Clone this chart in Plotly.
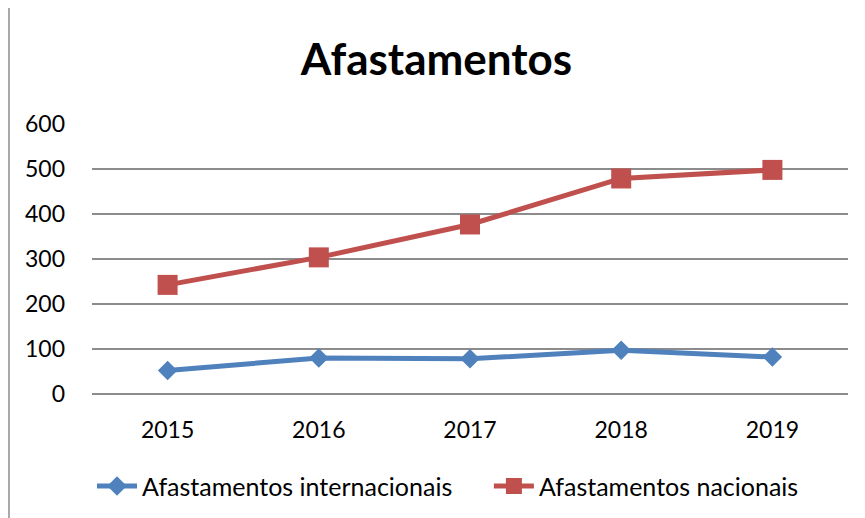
import plotly.graph_objects as go

years = ["2015", "2016", "2017", "2018", "2019"]
internacionais = [52, 80, 78, 97, 82]
nacionais = [242, 303, 376, 478, 497]
y_ticks = [0, 100, 200, 300, 400, 500, 600]

FONT = "Lato"
W, H = 857, 510  # page body has an 8px margin
fig = go.Figure()
fig.add_trace(go.Scatter(
    x=years, y=internacionais, name="Afastamentos internacionais",
    mode="lines+markers", legend="legend",
    line=dict(color="#4F81BD", width=5),
    marker=dict(symbol="diamond", size=15, color="#4F81BD"),
))
fig.add_trace(go.Scatter(
    x=years, y=nacionais, name="Afastamentos nacionais",
    mode="lines+markers", legend="legend2",
    line=dict(color="#C0504D", width=5),
    marker=dict(symbol="square", size=20, color="#C0504D"),
))

legend_common = dict(orientation="h", y=-0.34, yanchor="middle",
                     xanchor="left", font=dict(family=FONT, size=25),
                     itemwidth=40, bgcolor="rgba(0,0,0,0)")

fig.update_layout(
    width=W, height=H,
    margin=dict(l=84, r=17, t=115, b=124, autoexpand=False),
    paper_bgcolor="white", plot_bgcolor="white",
    font=dict(family=FONT, size=23, color="black"),
    title=dict(text="<b>Afastamentos</b>", x=0.5, xanchor="center",
               y=1 - 52 / H, yanchor="middle",
               font=dict(family=FONT, size=44, color="black")),
    xaxis=dict(type="category", range=[-0.5, 4.5], showgrid=False,
               showline=False, zeroline=False, ticks="",
               ticklabelstandoff=20, tickfont=dict(size=23)),
    yaxis=dict(range=[0, 601], tickvals=y_ticks, showgrid=True,
               gridcolor="#8C8C8C", gridwidth=1.5, zeroline=True,
               zerolinecolor="#8C8C8C", zerolinewidth=1.5,
               showline=False, ticks="", ticklabelstandoff=26,
               tickfont=dict(size=23)),
    legend=dict(x=0.0, **legend_common),
    legend2=dict(x=0.525, **legend_common),
    showlegend=True,
)

# chart frame border
fig.add_shape(type="line", xref="paper", yref="paper",
              x0=-83 / 756, x1=-83 / 756, y0=-2, y1=2,
              line=dict(color="#8C8C8C", width=1.5))

fig.write_html("out.html")
